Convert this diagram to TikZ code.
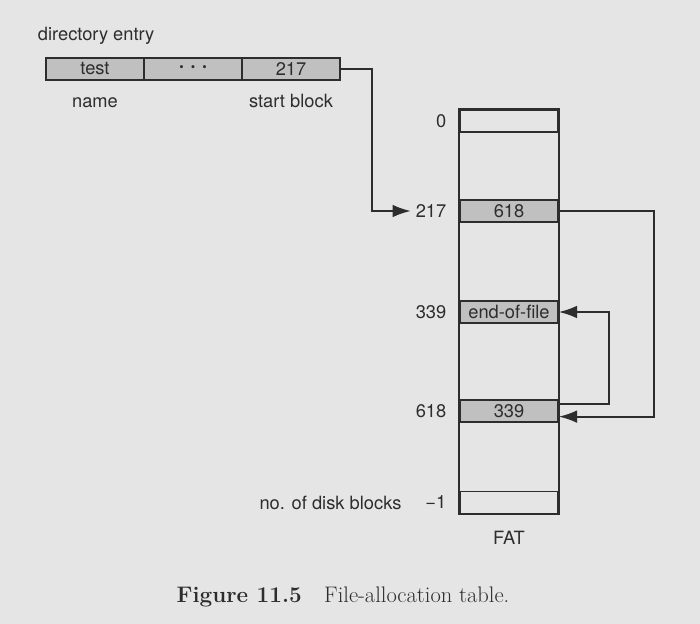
\documentclass[tikz,border=0pt]{standalone}
\usepackage{fontspec}
\setsansfont{TeX Gyre Heros}
\usetikzlibrary{positioning,arrows.meta}
\definecolor{paper}{RGB}{229,229,229}
\definecolor{cellgray}{RGB}{192,192,192}
\definecolor{ink}{RGB}{45,45,45}

\begin{document}
\begin{tikzpicture}[x=0.025cm, y=-0.025cm,
  every node/.style={text=ink, font=\sffamily\fontsize{13}{15}\selectfont},
  cell/.style={draw=ink, line width=1.1pt, fill=cellgray, minimum width=2.45cm, minimum height=0.55cm, inner sep=0pt},
  lbl/.style={text height=1.6ex, text depth=0.3ex},
  link/.style={draw=ink, line width=1.3pt, -{Latex[length=13pt,width=9pt]}}]
\fill[paper] (0,0) rectangle (700,624);

\node[anchor=west] (dirlbl) at (33,36) {directory entry};
\node[cell] (d1) at (95,69) {test};
\node[cell] (d2) at (193,69) {\fontsize{9}{10}\selectfont\textbullet\ \ \textbullet\ \ \textbullet};
\node[cell] (d3) at (291,69) {217};
\node[lbl, below=0.3cm of d1] (namelbl) {name};
\node[lbl, below=0.3cm of d3] (startlbl) {start block};

\node[cell, fill=none] (r0) at (509,121) {};
\node[cell, fill=none] (rend) at (509,502.5) {};
\draw[ink, line width=1.1pt] (r0.north west) rectangle (rend.south east);
\node[cell] (r217) at (509,211) {618};
\node[cell] (r339) at (509,312) {end-of-file};
\node[cell] (r618) at (509,411) {339};

\node[left=0.2cm of r0] (n0) {0};
\node[left=0.2cm of r217] (n217) {217};
\node[left=0.2cm of r339] (n339) {339};
\node[left=0.2cm of r618] (n618) {618};
\node[left=0.2cm of rend] (nend) {−1};
\node[left=0.35cm of nend] (blocks) {no. of disk blocks};
\node[below=0.3cm of rend] (fatlbl) {FAT};

\draw[link] (d3.east) -- ++(31,0) |- (n217.west);
\draw[link] (r217.east) -- ++(95,0) |- ([yshift=-4pt]r618.east);
\draw[link] ([yshift=5pt]r618.east) -- ++(50,0) |- (r339.east);

\node[font=\fontsize{16}{18}\selectfont] (caption) at (343,597) {\textbf{Figure 11.5}\quad File-allocation table.};
\end{tikzpicture}
\end{document}
